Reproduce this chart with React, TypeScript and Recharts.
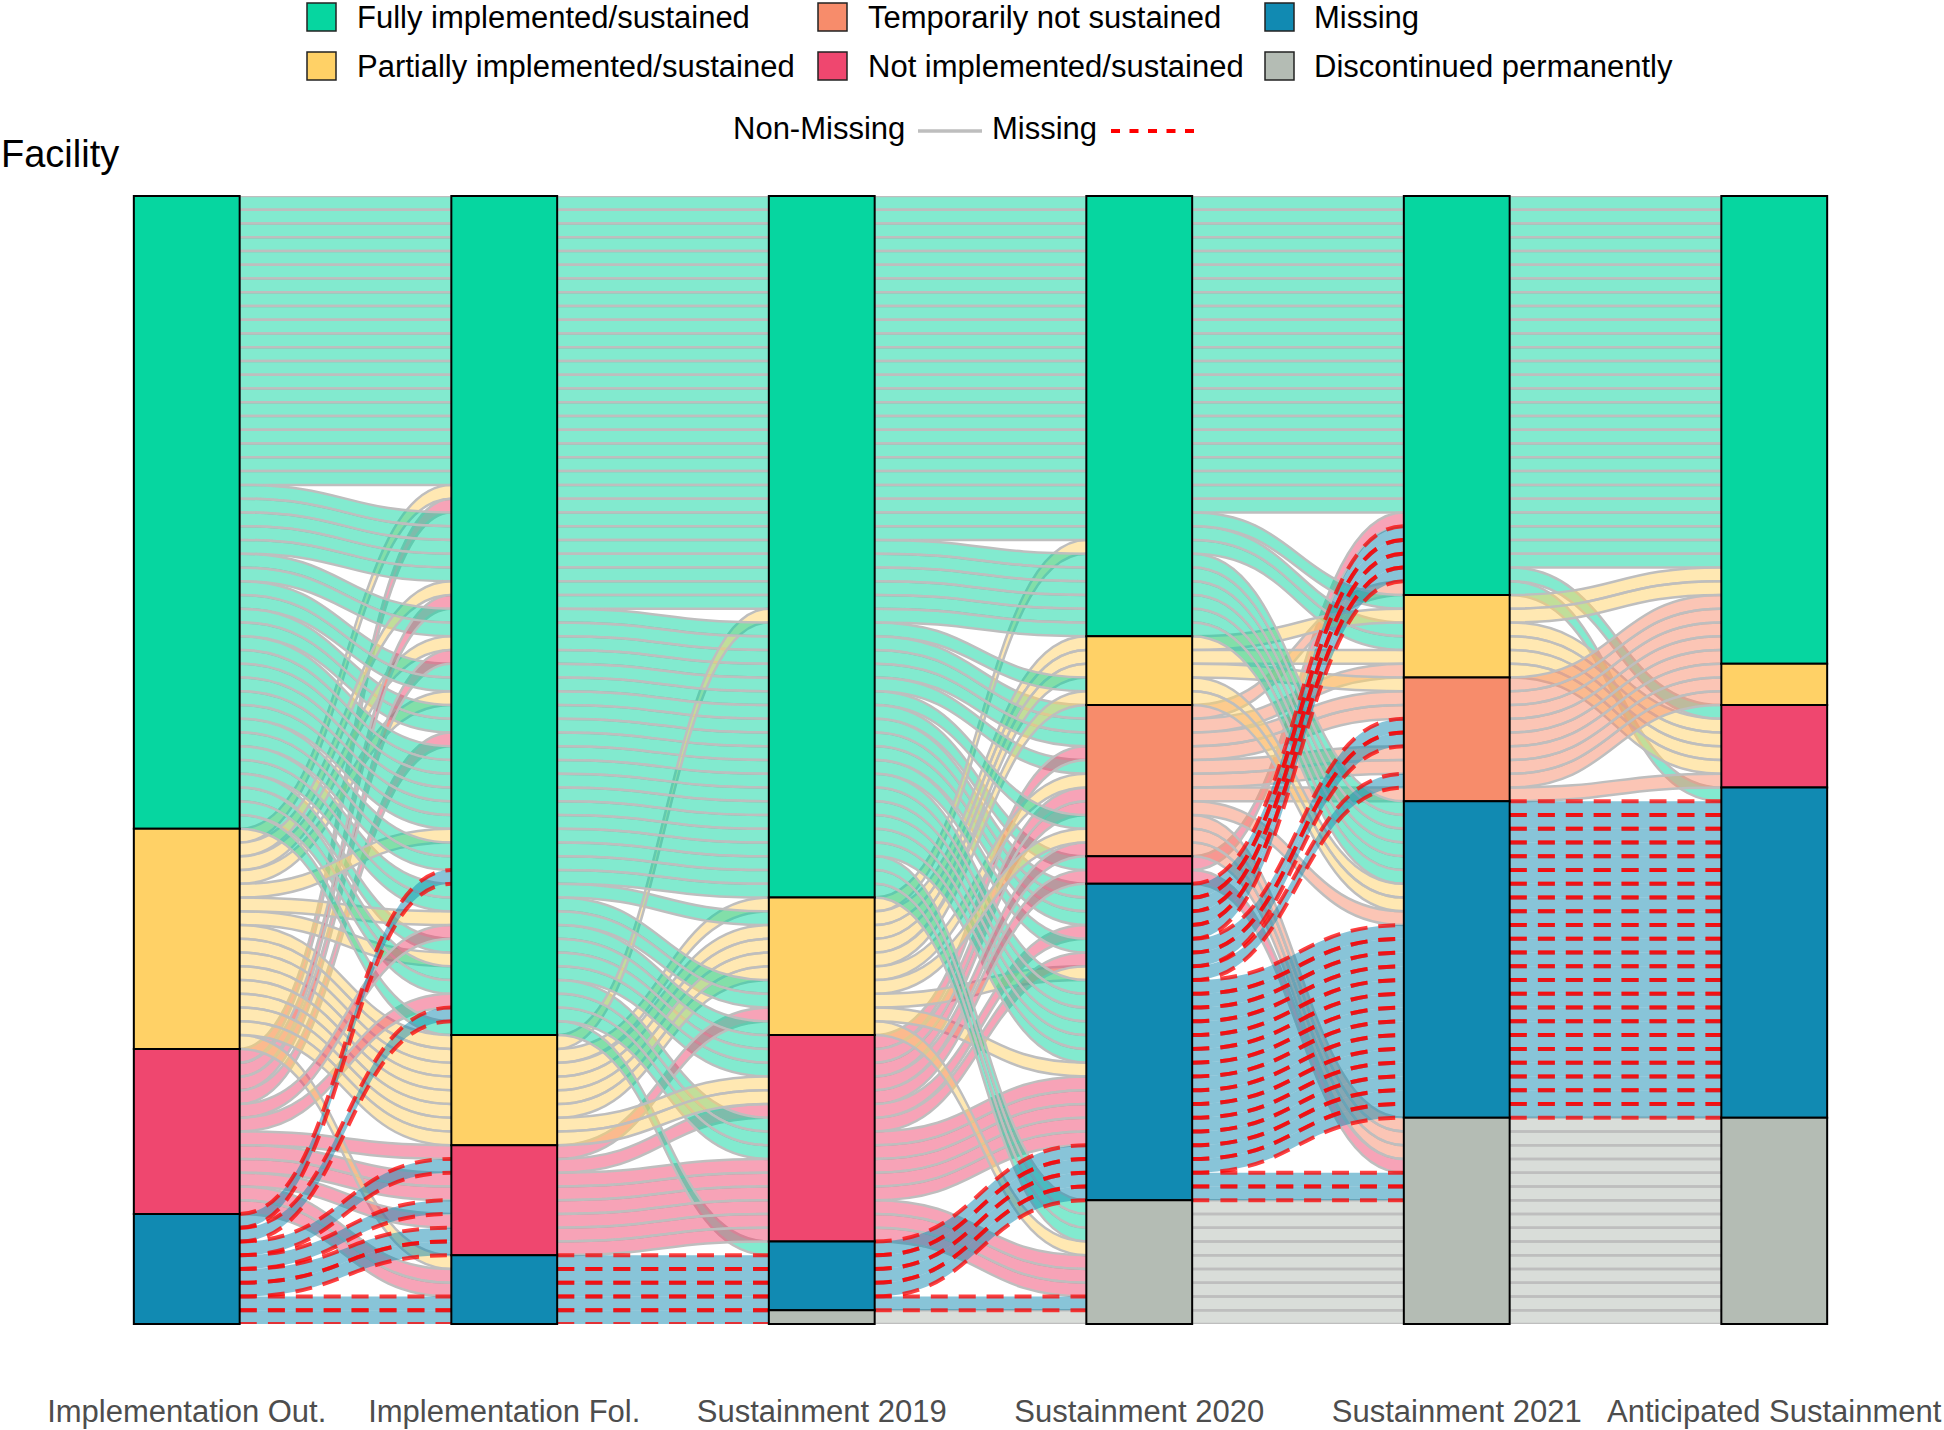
import React from "react";
import { ComposedChart, Area, XAxis, YAxis, ReferenceArea } from "recharts";

const axisLabels = [
  "Implementation Out.",
  "Implementation Fol.",
  "Sustainment 2019",
  "Sustainment 2020",
  "Sustainment 2021",
  "Anticipated Sustainment",
];

// stratum codes, top to bottom in every column
const strataCodes = ["F", "P", "T", "N", "M", "D"];
const strataNames = [
  "Fully implemented/sustained",
  "Partially implemented/sustained",
  "Temporarily not sustained",
  "Not implemented/sustained",
  "Missing",
  "Discontinued permanently",
];
const strataColors = ["#06D6A0", "#FFD166", "#F78C6B", "#EF476F", "#118AB2", "#B4BCB4"];

// status of a facility at each of the 6 time points, and how many facilities share it
const facilityPaths: [string, number][] = [
  ["FFFFFF", 21],
  ["PFFFFF", 1],
  ["NFFFFF", 1],
  ["PFFNFF", 1],
  ["FFFMFF", 2],
  ["NFFMFF", 1],
  ["MNNMFN", 1],
  ["FFFTFM", 1],
  ["FFFFPF", 1],
  ["FFFFPN", 1],
  ["PPPFPN", 1],
  ["FFPPPF", 1],
  ["PPPPPN", 1],
  ["PFFTPN", 1],
  ["PPPPTF", 1],
  ["FFFTTP", 1],
  ["NFFTTF", 1],
  ["PFNTTN", 1],
  ["FFNTTF", 1],
  ["PPPTTP", 1],
  ["FFFMTF", 1],
  ["PFPMTP", 1],
  ["FFNMTF", 1],
  ["FFFFMM", 3],
  ["PPFFMM", 1],
  ["PFFFMM", 1],
  ["NFFFMM", 1],
  ["FFFPMM", 1],
  ["PPPPMM", 1],
  ["FFNTMM", 1],
  ["FFFMMM", 5],
  ["PFFMMM", 1],
  ["NNPMMM", 1],
  ["NFNMMM", 1],
  ["MFNMMM", 1],
  ["NNNMMM", 2],
  ["MNNMMM", 1],
  ["FFMMMM", 1],
  ["PMMMMM", 1],
  ["FFFTDD", 1],
  ["FFPTDD", 1],
  ["PPNTDD", 1],
  ["PPNNDD", 1],
  ["NMMMDD", 2],
  ["FFFDDD", 2],
  ["MFFDDD", 1],
  ["NFPDDD", 1],
  ["NNNDDD", 1],
  ["MNNDDD", 2],
  ["MMMDDD", 1],
  ["MMDDDD", 1],
];

const FONT = "'Liberation Sans', Arial, Helvetica, sans-serif";
const HALF = 1 / 6; // half width of a stratum box in axis units

const facilities: string[] = facilityPaths.flatMap(([p, n]) => Array(n).fill(p));
const nFac = facilities.length;
const nAxes = axisLabels.length;
const codeIdx = (c: string) => strataCodes.indexOf(c);

// lode order inside each column: own stratum, then axes to the right, then to the left
const positions: number[][] = facilities.map(() => []);
for (let a = 0; a < nAxes; a++) {
  const order = [a];
  for (let b = a + 1; b < nAxes; b++) order.push(b);
  for (let b = a - 1; b >= 0; b--) order.push(b);
  const idx = facilities.map((_, i) => i);
  idx.sort((i, j) => {
    for (const b of order) {
      const d = codeIdx(facilities[i][b]) - codeIdx(facilities[j][b]);
      if (d) return d;
    }
    return i - j;
  });
  idx.forEach((f, r) => (positions[f][a] = r));
}

const boxes = axisLabels.flatMap((_, a) => {
  let start = 0;
  return strataCodes
    .map((code, s) => {
      const n = facilities.filter((p) => p[a] === code).length;
      const box = { a, s, y1: start, y2: start + n, n };
      start += n;
      return box;
    })
    .filter((b) => b.n > 0);
});

const rows = axisLabels.flatMap((_, a) => [
  { x: a + 1 - HALF, axis: a, side: "L" },
  { x: a + 1 + HALF, axis: a, side: "R" },
]);

// missing-sourced flows drawn last so their dashes sit on top
const ribbons = facilities
  .flatMap((path, f) =>
    Array.from({ length: nAxes - 1 }, (_, g) => ({ f, g, from: path[g] }))
  )
  .sort((p, q) => (p.from === "M" ? 1 : 0) - (q.from === "M" ? 1 : 0));

const AxisTick = (props: any) => {
  const { x, y, payload } = props;
  return (
    <text x={x} y={y + 98} textAnchor="middle" fontSize={31} fill="#4D4D4D" fontFamily={FONT}>
      {axisLabels[payload.value - 1]}
    </text>
  );
};

const legendCols = [307, 818, 1265];
const legendTextX = [357, 868, 1314];
const legendRowY = [3, 52];

export default function App() {
  return (
    <div style={{ position: "relative", width: 1944, height: 1430, background: "#fff" }}>
      <style>{"body{margin:0}"}</style>
      <ComposedChart
        width={1944}
        height={1430}
        data={rows}
        margin={{ top: 196, right: 11, bottom: 0, left: 28 }}
      >
        <XAxis
          dataKey="x"
          type="number"
          domain={[0.5, 6.5]}
          ticks={[1, 2, 3, 4, 5, 6]}
          interval={0}
          allowDataOverflow
          axisLine={false}
          tickLine={false}
          tickSize={0}
          tickMargin={0}
          height={106}
          tick={<AxisTick />}
        />
        <YAxis hide type="number" domain={[0, nFac]} reversed allowDataOverflow />
        {ribbons.map(({ f, g, from }) => {
          const missing = from === "M";
          return (
            <Area
              key={`r-${f}-${g}`}
              type="bumpX"
              dataKey={(row: any) => {
                if (row.axis === g && row.side === "R") return [positions[f][g], positions[f][g] + 1];
                if (row.axis === g + 1 && row.side === "L") return [positions[f][g + 1], positions[f][g + 1] + 1];
                return null;
              }}
              fill={strataColors[codeIdx(from)]}
              fillOpacity={0.5}
              stroke={missing ? "#FF0000" : "#BEBEBE"}
              strokeOpacity={missing ? 0.75 : 1}
              strokeWidth={missing ? 4 : 2.5}
              strokeDasharray={missing ? "17 11" : undefined}
              dot={false}
              activeDot={false}
              isAnimationActive={false}
            />
          );
        })}
        {boxes.map((b) => (
          <ReferenceArea
            key={`b-${b.a}-${b.s}`}
            x1={b.a + 1 - HALF}
            x2={b.a + 1 + HALF}
            y1={b.y1}
            y2={b.y2}
            fill={strataColors[b.s]}
            fillOpacity={1}
            stroke="#000"
            strokeWidth={2}
            ifOverflow="visible"
            zIndex={1500}
          />
        ))}
      </ComposedChart>
      <svg
        width={1944}
        height={190}
        style={{ position: "absolute", left: 0, top: 0, pointerEvents: "none" }}
        fontFamily={FONT}
      >
        {strataNames.map((name, s) => {
          const col = Math.floor(s / 2);
          const row = s % 2;
          return (
            <g key={name}>
              <rect
                x={legendCols[col]}
                y={legendRowY[row]}
                width={29}
                height={28}
                fill={strataColors[s]}
                stroke="#222"
                strokeWidth={1.5}
              />
              <text x={legendTextX[col]} y={legendRowY[row] + 25} fontSize={31} fill="#000">
                {name}
              </text>
            </g>
          );
        })}
        <text x={733} y={139} fontSize={31} fill="#000">Non-Missing</text>
        <line x1={918} x2={982} y1={131} y2={131} stroke="#BEBEBE" strokeWidth={3.5} />
        <text x={992} y={139} fontSize={31} fill="#000">Missing</text>
        <line x1={1111} x2={1198} y1={131} y2={131} stroke="#FF0000" strokeWidth={4} strokeDasharray="9 9.5" />
        <text x={1} y={167} fontSize={38} fill="#000">Facility</text>
      </svg>
    </div>
  );
}
